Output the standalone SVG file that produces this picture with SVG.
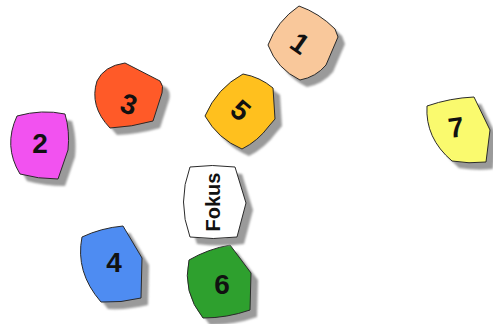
<svg xmlns="http://www.w3.org/2000/svg" xmlns:xlink="http://www.w3.org/1999/xlink" width="493" height="324" viewBox="0 0 493 324">
<style>
.shadow{fill:#9a9a9a;filter:url(#blur)}
.shape{stroke:#2a2a2a;stroke-width:1;stroke-linejoin:round}
.num{font-family:"Liberation Sans",Arial,sans-serif;font-weight:bold;font-size:28px;fill:#111;text-anchor:middle}
.lbl{font-family:"Liberation Sans",Arial,sans-serif;font-weight:bold;font-size:20px;fill:#111;text-anchor:middle}
</style>
<defs>
<filter id="blur" x="-20%" y="-20%" width="140%" height="140%"><feGaussianBlur stdDeviation="1"/></filter>
<path id="p1" d="M268,45 Q277,21 299,6 Q319,13 335,29 L338,37 L326,65 Q316,77 300,80 Q277,69 268,45 Z"/>
<path id="p2" d="M17,116 Q42,109 65,114 Q70,131 68,150 L58,179 Q38,179 20,174 Q3,146 17,116 Z"/>
<path id="p3" d="M97,81 Q104,66 125,63 L160,81 Q164,86 162,93 L153,121 Q132,127 110,128 Q89,106 97,81 Z"/>
<path id="p4" d="M82,237 Q101,228 123,226 L142,258 L141,298 Q121,303 101,302 Q75,272 82,237 Z"/>
<path id="p5" d="M205,116 Q217,88 243,74 Q260,77 273,88 L275,119 L269,126 Q258,141 242,149 Q218,139 205,116 Z"/>
<path id="p6" d="M189,260 Q208,249 230,245 L251,273 L250,310 Q227,318 203,318 Q182,292 189,260 Z"/>
<path id="p7" d="M427,106 Q450,98 474,97 L490,130 L486,162 Q469,164 452,161 Q425,138 427,106 Z"/>
<path id="pf" d="M190,167 Q212,164 235,167 L246,203 L237,237 Q213,240 190,237 Q177,202 190,167 Z"/>
</defs>
<g id="connectors"/>
<g id="node1">
<use xlink:href="#p1" class="shadow" transform="translate(7,7)"/>
<use xlink:href="#p1" class="shape" fill="#F9C89B"/>
<text class="num" transform="translate(300,43) rotate(35)" x="0" y="10">1</text>
</g>
<g id="node2">
<use xlink:href="#p2" class="shadow" transform="translate(7,7)"/>
<use xlink:href="#p2" class="shape" fill="#F252F0"/>
<text class="num" transform="translate(40,143)" x="0" y="10">2</text>
</g>
<g id="node3">
<use xlink:href="#p3" class="shadow" transform="translate(7,7)"/>
<use xlink:href="#p3" class="shape" fill="#FF5A28"/>
<text class="num" transform="translate(129,104) rotate(18)" x="0" y="10">3</text>
</g>
<g id="node4">
<use xlink:href="#p4" class="shadow" transform="translate(7,7)"/>
<use xlink:href="#p4" class="shape" fill="#4E8CF2"/>
<text class="num" transform="translate(114,262)" x="0" y="10">4</text>
</g>
<g id="node5">
<use xlink:href="#p5" class="shadow" transform="translate(7,7)"/>
<use xlink:href="#p5" class="shape" fill="#FFC01E"/>
<text class="num" transform="translate(241,110) rotate(40)" x="0" y="10">5</text>
</g>
<g id="node6">
<use xlink:href="#p6" class="shadow" transform="translate(7,7)"/>
<use xlink:href="#p6" class="shape" fill="#2EA02E"/>
<text class="num" transform="translate(222,284)" x="0" y="10">6</text>
</g>
<g id="node7">
<use xlink:href="#p7" class="shadow" transform="translate(7,7)"/>
<use xlink:href="#p7" class="shape" fill="#FAFA6E"/>
<text class="num" transform="translate(456,127) rotate(-8)" x="0" y="10">7</text>
</g>
<g id="fokus">
<use xlink:href="#pf" class="shadow" transform="translate(7,7)"/>
<use xlink:href="#pf" class="shape" fill="#FFFFFF"/>
<text class="lbl" transform="translate(213,202) rotate(-90)" x="0" y="7">Fokus</text>
</g>
</svg>
